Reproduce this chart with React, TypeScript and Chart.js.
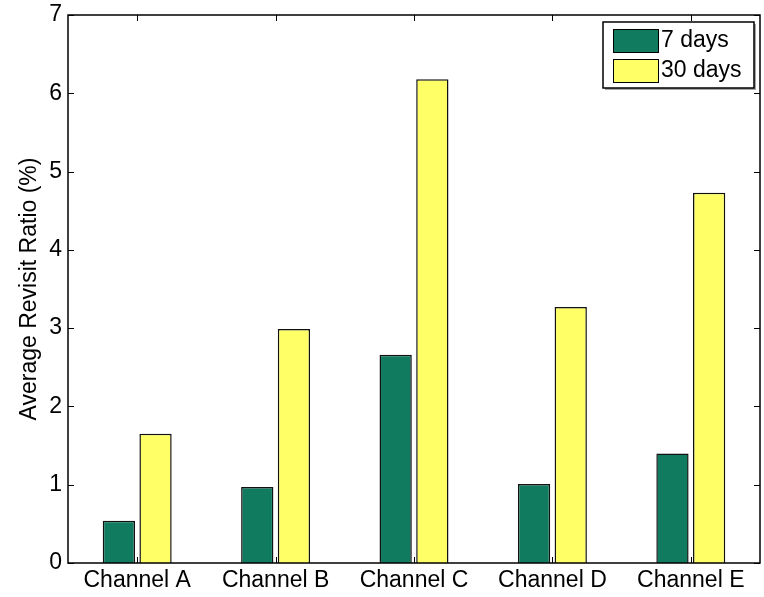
import React, { useEffect, useRef } from "react";
import { Chart, registerables } from "chart.js";

Chart.register(...registerables);

const categories = ["Channel A", "Channel B", "Channel C", "Channel D", "Channel E"];
const sevenDays = [0.54, 0.97, 2.66, 1.01, 1.4];
const thirtyDays = [1.65, 2.99, 6.18, 3.27, 4.73];
const seriesNames = ["7 days", "30 days"];
const yTicks = [0, 1, 2, 3, 4, 5, 6, 7];

const FONT = "Liberation Sans, Arial, Helvetica, sans-serif";

const framePlugin = {
  id: "matlabFrame",
  afterDraw(chart: any) {
    const { ctx, chartArea: a, scales } = chart;
    ctx.save();
    ctx.strokeStyle = "#000";
    ctx.lineWidth = 1.5;
    ctx.strokeRect(a.left, a.top, a.right - a.left, a.bottom - a.top);
    ctx.lineWidth = 1;
    const tl = 6;
    for (const v of yTicks) {
      const y = Math.round(scales.y.getPixelForValue(v)) + 0.5;
      ctx.beginPath();
      ctx.moveTo(a.left, y);
      ctx.lineTo(a.left + tl, y);
      ctx.moveTo(a.right, y);
      ctx.lineTo(a.right - tl, y);
      ctx.stroke();
    }
    categories.forEach((_, i) => {
      const x = Math.round(scales.x.getPixelForValue(i)) + 0.5;
      ctx.beginPath();
      ctx.moveTo(x, a.bottom);
      ctx.lineTo(x, a.bottom - tl);
      ctx.moveTo(x, a.top);
      ctx.lineTo(x, a.top + tl);
      ctx.stroke();
    });
    // legend box
    const bx = 603, by = 22, bw = 151, bh = 66;
    ctx.fillStyle = "rgba(0,0,0,0.35)";
    ctx.fillRect(bx + 2, by + 2, bw, bh);
    ctx.fillStyle = "#fff";
    ctx.fillRect(bx, by, bw, bh);
    ctx.strokeStyle = "#000";
    ctx.lineWidth = 1.5;
    ctx.strokeRect(bx, by, bw, bh);
    ctx.lineWidth = 1;
    ctx.font = `23px ${FONT}`;
    ctx.textBaseline = "middle";
    ctx.textAlign = "left";
    chart.data.datasets.forEach((ds: any, i: number) => {
      const sy = by + 7 + i * 30;
      ctx.fillStyle = ds.backgroundColor;
      ctx.fillRect(bx + 10, sy, 45, 23);
      ctx.strokeStyle = "#000";
      ctx.strokeRect(bx + 10.5, sy + 0.5, 45, 23);
      ctx.fillStyle = "#000";
      ctx.fillText(ds.label, bx + 58, sy + 12);
    });
    ctx.restore();
  },
};

export default function App() {
  const ref = useRef<HTMLCanvasElement>(null);
  useEffect(() => {
    document.body.style.margin = "0";
    const chart = new Chart(ref.current!, {
      type: "bar",
      data: {
        labels: categories,
        datasets: [
          {
            label: seriesNames[0],
            data: sevenDays,
            backgroundColor: "#117b60",
            borderColor: "#111",
            borderWidth: 1.5,
          },
          {
            label: seriesNames[1],
            data: thirtyDays,
            backgroundColor: "#ffff66",
            borderColor: "#111",
            borderWidth: 1.5,
          },
        ],
      },
      options: {
        animation: false,
        responsive: false,
        maintainAspectRatio: false,
        layout: { padding: { top: 0, right: 4, left: 0, bottom: 0 } },
        plugins: {
          legend: { display: false },
          tooltip: { enabled: false },
        },
        datasets: {
          bar: { categoryPercentage: 0.53, barPercentage: 0.88 },
        },
        scales: {
          x: {
            grid: { display: false, drawTicks: false },
            border: { display: false },
            ticks: {
              color: "#000",
              font: { family: FONT, size: 23 },
              padding: 4,
              maxRotation: 0,
              autoSkip: false,
            },
            afterFit(s: any) {
              s.height = 34;
              s.paddingLeft = 0;
              s.paddingRight = 0;
            },
          },
          y: {
            min: 0,
            max: 7,
            grid: { display: false, drawTicks: false },
            border: { display: false },
            afterBuildTicks(s: any) {
              s.ticks = yTicks.map((v) => ({ value: v }));
            },
            ticks: {
              color: "#000",
              font: { family: FONT, size: 23, lineHeight: 0.95 },
              padding: 6,
            },
            title: {
              display: true,
              text: "Average Revisit Ratio (%)",
              color: "#000",
              font: { family: FONT, size: 23 },
              padding: { top: 16, bottom: 0 },
            },
            afterFit(s: any) {
              s.width = 68;
              s.paddingTop = 15;
            },
          },
        },
      },
      plugins: [framePlugin],
    });
    return () => chart.destroy();
  }, []);
  return (
    <div style={{ position: "fixed", left: 0, top: 0, width: 764, height: 597, background: "#fff" }}>
      <canvas ref={ref} width={764} height={597} />
    </div>
  );
}
